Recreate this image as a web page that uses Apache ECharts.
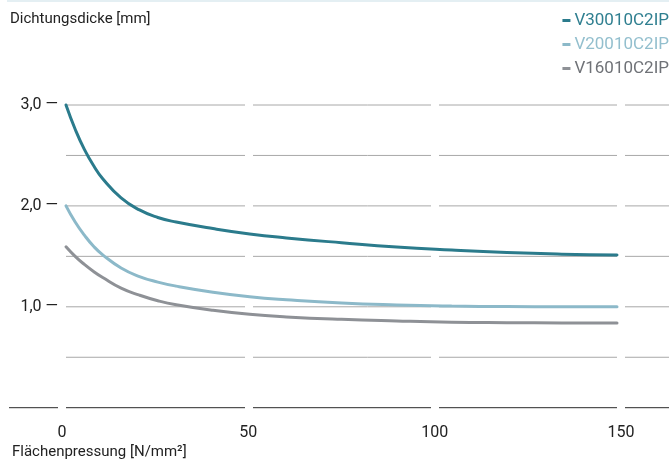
<!DOCTYPE html>
<html>
<head>
<meta charset="utf-8">
<script src="https://cdn.jsdelivr.net/npm/echarts@6/dist/echarts.min.js"></script>
<style>
  html, body { margin: 0; padding: 0; background: #fff; }
  #topline { position: absolute; left: 7px; right: 0; top: 0; height: 2px; background: #e4eff3; }
  #chart { width: 669px; height: 462px; }
</style>
</head>
<body>
<div id="topline"></div>
<div id="chart"></div>
<script>
// ---- data ----
const pressure = [0, 2.5, 5, 7.5, 10, 15, 20, 25, 30, 40, 50, 60, 75, 90, 105, 120, 135, 150];
const v300 = [3.0, 2.76, 2.56, 2.40, 2.27, 2.08, 1.96, 1.885, 1.84, 1.775, 1.722, 1.683, 1.635, 1.592, 1.562, 1.538, 1.522, 1.513];
const v200 = [2.0, 1.84, 1.71, 1.60, 1.515, 1.385, 1.30, 1.245, 1.205, 1.145, 1.10, 1.07, 1.037, 1.018, 1.007, 1.002, 1.0, 1.0];
const v160 = [1.595, 1.50, 1.42, 1.35, 1.29, 1.185, 1.115, 1.06, 1.02, 0.965, 0.925, 0.90, 0.876, 0.86, 0.848, 0.843, 0.84, 0.84];
const seriesNames = ['V30010C2IP', 'V20010C2IP', 'V16010C2IP'];
const xTicks = [0, 50, 100, 150];
const yLabelValues = [1, 2, 3];
const gridValues = [0.5, 1.0, 1.5, 2.0, 2.5, 3.0];

// ---- layout / style ----
const FONT = 'Roboto';
const colors = ['#2b7b8c', '#8cb9c9', '#8e9196'];
const textColors = ['#2f7f90', '#93bfce', '#6f7277'];
const W = 669, H = 462;
const PX_X0 = 66, PX_X150 = 617;           // curve x extent
const PX_LEFT = 9;                          // baseline starts here
const PX_Y3 = 105, PX_Y0 = 407.7;          // curve y extent
const yPad = 0.05;
const yPerUnit = (PX_Y0 - PX_Y3) / 3;
const gridTop = PX_Y3 - yPad * yPerUnit;
const gridBottom = H - (PX_Y0 + yPad * yPerUnit);
const xPerUnit = (PX_X150 - PX_X0) / 150;
const xRightVal = 150 + (W - PX_X150) / xPerUnit;
const xLeftVal = -(PX_X0 - PX_LEFT) / xPerUnit;

const chart = echarts.init(document.getElementById('chart'), null, { renderer: 'canvas' });

const curves = [v300, v200, v160].map((vals, i) => ({
  name: seriesNames[i],
  type: 'line',
  xAxisIndex: 0, yAxisIndex: 0,
  data: pressure.map((p, j) => [p, vals[j]]),
  smooth: true,
  showSymbol: false,
  symbol: 'none',
  lineStyle: { color: colors[i], width: 3, cap: 'round' },
  itemStyle: { color: colors[i] },
  z: 5
}));

const gridSeries = gridValues.map(v => ({
  type: 'line',
  xAxisIndex: 0, yAxisIndex: 0,
  data: [[0, v], [xRightVal, v]],
  silent: true,
  symbol: 'none',
  lineStyle: { color: '#a8a8a8', width: 1 },
  z: 1
}));
gridSeries.push({
  type: 'line',
  xAxisIndex: 0, yAxisIndex: 0,
  data: [[xLeftVal, 0], [xRightVal, 0]],
  silent: true,
  symbol: 'none',
  lineStyle: { color: '#2a2a2a', width: 1 },
  z: 1
});

chart.setOption({
  animation: false,
  textStyle: { fontFamily: FONT },
  title: [
    { text: 'Dichtungsdicke [mm]', left: 10, top: 12, padding: 0,
      textStyle: { fontFamily: FONT, fontSize: 15, fontWeight: 'normal', color: '#222' } },
    { text: 'Flächenpressung [N/mm²]', left: 12, top: 445, padding: 0,
      textStyle: { fontFamily: FONT, fontSize: 15, fontWeight: 'normal', color: '#222' } }
  ],
  legend: {
    orient: 'vertical',
    right: 0, top: 12, padding: 0,
    itemGap: 7,
    itemWidth: 8, itemHeight: 3,
    icon: 'rect',
    selectedMode: false,
    data: seriesNames.map((n, i) => ({ name: n, textStyle: { color: textColors[i] } })),
    textStyle: { fontFamily: FONT, fontSize: 17, padding: [0, 0, 0, -1] }
  },
  grid: [
    { left: PX_LEFT, right: 0, top: gridTop, bottom: gridBottom },
    { left: 62, right: W - 621, top: gridTop, bottom: gridBottom }
  ],
  xAxis: [
    { type: 'value', gridIndex: 0, min: xLeftVal, max: xRightVal,
      axisLine: { show: false }, axisTick: { show: false }, axisLabel: { show: false },
      splitLine: { show: false } },
    { type: 'value', gridIndex: 1, min: 0, max: 150, interval: 50, z: 3,
      axisLine: { show: false }, axisTick: { show: false },
      axisLabel: { show: true, margin: 12, fontFamily: FONT, fontSize: 16, color: '#222',
        customValues: xTicks, showMinLabel: true, showMaxLabel: true },
      splitLine: { show: true, showMinLine: true, showMaxLine: true,
        lineStyle: { color: '#ffffff', width: 8 } } }
  ],
  yAxis: [
    { type: 'value', gridIndex: 0, min: -yPad, max: 3 + yPad,
      axisLine: { show: false }, axisTick: { show: false },
      splitLine: { show: false },
      offset: -(PX_X0 - PX_LEFT),
      axisLabel: { show: true, margin: 8, fontFamily: FONT, fontSize: 16, color: '#222',
        customValues: yLabelValues,
        formatter: v => v.toFixed(1).replace('.', ',') + ' —' } },
    { type: 'value', gridIndex: 1, min: -yPad, max: 3 + yPad, show: false,
      splitLine: { show: false } }
  ],
  series: gridSeries.concat(curves)
});
</script>
</body>
</html>
